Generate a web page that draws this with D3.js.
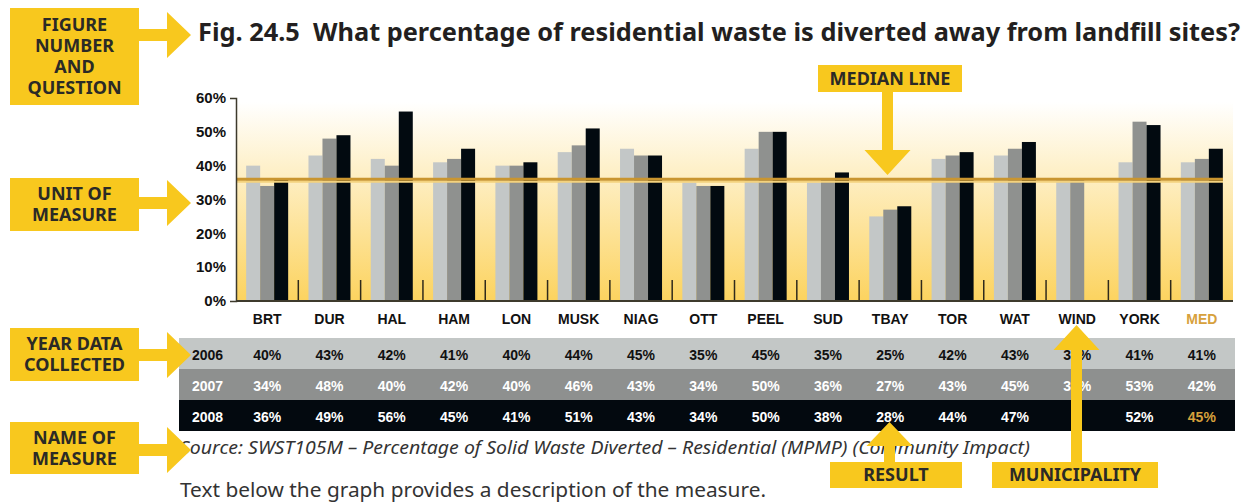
<!DOCTYPE html>
<meta charset="utf-8">
<style>
  body { margin: 0; background: #fff; }
  .cat { font: bold 14px "Liberation Sans", Arial, sans-serif; }
  .cell { font: bold 14px "Liberation Sans", Arial, sans-serif; }
  .callout { font: bold 18px "Noto Sans", sans-serif; fill: #2b2a26; }
</style>
<body>
<script src="https://d3js.org/d3.v7.min.js"></script>
<script>

// data
var municipalities = ["BRT", "DUR", "HAL", "HAM", "LON", "MUSK", "NIAG", "OTT", "PEEL", "SUD", "TBAY", "TOR", "WAT", "WIND", "YORK", "MED"];
var years = ["2006", "2007", "2008"];
var v2006 = [40, 43, 42, 41, 40, 44, 45, 35, 45, 35, 25, 42, 43, 36, 41, 41];
var v2007 = [34, 48, 40, 42, 40, 46, 43, 34, 50, 36, 27, 43, 45, 36, 53, 42];
var v2008 = [36, 49, 56, 45, 41, 51, 43, 34, 50, 38, 28, 44, 47, null, 52, 45];
var median = 36;
var yTicks = [0, 10, 20, 30, 40, 50, 60];

var series = [v2006, v2007, v2008];
var barColors = ["#c3c7c7", "#8f918f", "#020a10"];
var rowColors = ["#c3c7c6", "#8e908f", "#03090f"];
var textColors = ["#111", "#fff", "#fff"];
var gold = "#c9952f";

var W = 1252, H = 502;
var svg = d3.select("body").append("svg")
    .attr("width", W)
    .attr("height", H);

// scales
var x = d3.scaleBand().domain(municipalities).range([236, 1233]);
var x1 = d3.scaleBand().domain(years).range([0, 42]);
var y = d3.scaleLinear().domain([0, 60]).range([301, 98]);

// background gradient
var grad = svg.append("defs").append("linearGradient")
    .attr("id", "bg").attr("x1", 0).attr("y1", 0).attr("x2", 0).attr("y2", 1);
grad.append("stop").attr("offset", "0%").attr("stop-color", "#ffffff");
grad.append("stop").attr("offset", "100%").attr("stop-color", "#fcd35f");

svg.append("rect")
    .attr("x", x.range()[0])
    .attr("y", y(60) + 4)
    .attr("width", x.range()[1] - x.range()[0])
    .attr("height", y(0) - y(60) - 4)
    .attr("fill", "url(#bg)");

// bars
var off = (x.bandwidth() - 42) / 2;
series.forEach(function(vals, si) {
  svg.append("g").selectAll("rect")
    .data(municipalities.map(function(m, i) { return {m: m, v: vals[i]}; })
      .filter(function(d) { return d.v != null; }))
    .join("rect")
      .attr("x", function(d) { return x(d.m) + off + x1(years[si]); })
      .attr("y", function(d) { return y(d.v); })
      .attr("width", x1.bandwidth())
      .attr("height", function(d) { return y(0) - y(d.v); })
      .attr("fill", barColors[si]);
});

// separators between groups
svg.append("g").selectAll("line")
  .data(municipalities.slice(1))
  .join("line")
    .attr("x1", function(d) { return x(d); })
    .attr("x2", function(d) { return x(d); })
    .attr("y1", y(0) - 21)
    .attr("y2", y(0))
    .attr("stroke", "#2f2a1c")
    .attr("stroke-width", 1.5);

// median line
svg.append("line")
    .attr("x1", x.range()[0]).attr("x2", x.range()[1] - 10)
    .attr("y1", y(median) + 2.5).attr("y2", y(median) + 2.5)
    .attr("stroke", "#f3d27e").attr("stroke-width", 2);
svg.append("line")
    .attr("x1", x.range()[0]).attr("x2", x.range()[1] - 10)
    .attr("y1", y(median)).attr("y2", y(median))
    .attr("stroke", gold).attr("stroke-width", 3);

// y axis
var yAxis = svg.append("g")
    .attr("transform", "translate(236,0)")
    .call(d3.axisLeft(y).tickValues(yTicks).tickSizeInner(0).tickSizeOuter(6).tickPadding(10)
      .tickFormat(function(d) { return d + "%"; }));
yAxis.select(".domain").attr("stroke", "#3d3a2c").attr("stroke-width", 1.5);
yAxis.selectAll("text")
    .attr("fill", "#111")
    .style("font", "bold 15px 'Liberation Sans', Arial, sans-serif");

// x baseline
svg.append("line")
    .attr("x1", x.range()[0]).attr("x2", x.range()[1])
    .attr("y1", y(0)).attr("y2", y(0))
    .attr("stroke", "#3d3a2c").attr("stroke-width", 2);

// category labels
svg.append("g").selectAll("text")
  .data(municipalities)
  .join("text")
    .attr("class", "cat")
    .attr("x", function(d) { return x(d) + x.bandwidth() / 2; })
    .attr("y", 324)
    .attr("text-anchor", "middle")
    .attr("fill", function(d) { return d == "MED" ? "#d7a13c" : "#111"; })
    .text(function(d) { return d; });

// data table
var rowTop = 338, rowH = 31;
years.forEach(function(yr, si) {
  var ry = rowTop + si * rowH;
  svg.append("rect")
      .attr("x", 179).attr("y", ry)
      .attr("width", 1235 - 179).attr("height", rowH)
      .attr("fill", rowColors[si]);
  svg.append("text")
      .attr("class", "cell")
      .attr("x", 192).attr("y", ry + rowH / 2 + 6)
      .attr("fill", textColors[si])
      .text(yr);
  svg.append("g").selectAll("text")
    .data(municipalities.map(function(m, i) { return {m: m, v: series[si][i]}; })
      .filter(function(d) { return d.v != null; }))
    .join("text")
      .attr("class", "cell")
      .attr("x", function(d) { return x(d.m) + x.bandwidth() / 2; })
      .attr("y", ry + rowH / 2 + 6)
      .attr("text-anchor", "middle")
      .attr("fill", function(d) { return (d.m == "MED" && si == 2) ? "#d7a13c" : textColors[si]; })
      .text(function(d) { return d.v + "%"; });
});

// title
svg.append("text")
    .attr("x", 198).attr("y", 41)
    .attr("textLength", 1042)
    .attr("lengthAdjust", "spacingAndGlyphs")
    .style("font", "bold 25px 'Noto Sans', sans-serif")
    .style("white-space", "pre")
    .attr("fill", "#231f20")
    .text("Fig. 24.5  What percentage of residential waste is diverted away from landfill sites?");

// source and description
svg.append("text")
    .attr("x", 180).attr("y", 454)
    .attr("textLength", 850)
    .attr("lengthAdjust", "spacingAndGlyphs")
    .style("font", "italic 18.5px 'Noto Sans', sans-serif")
    .attr("fill", "#333")
    .text("Source: SWST105M \u2013 Percentage of Solid Waste Diverted \u2013 Residential (MPMP) (Community Impact)");
svg.append("text")
    .attr("x", 180).attr("y", 497)
    .attr("textLength", 586)
    .attr("lengthAdjust", "spacingAndGlyphs")
    .style("font", "20px 'Noto Sans', sans-serif")
    .attr("fill", "#333")
    .text("Text below the graph provides a description of the measure.");

// callouts
var yellow = "#f8c81e";
function calloutBox(x0, y0, w, h, lines) {
  svg.append("rect").attr("x", x0).attr("y", y0).attr("width", w).attr("height", h).attr("fill", yellow);
  var lh = 21;
  var start = y0 + h / 2 - (lines.length - 1) * lh / 2 + 6;
  lines.forEach(function(l, i) {
    svg.append("text").attr("class", "callout")
        .attr("x", x0 + w / 2).attr("y", start + i * lh)
        .attr("text-anchor", "middle").text(l);
  });
}
function arrowRight(x0, cy) {
  svg.append("path").attr("fill", yellow)
      .attr("d", "M" + x0 + "," + (cy - 6) + "H167V" + (cy - 23) + "L191," + cy + "L167," + (cy + 23) + "V" + (cy + 6) + "H" + x0 + "Z");
}
function arrowVert(cx, yBase, yBaseTri, yTip) {
  svg.append("path").attr("fill", yellow)
      .attr("d", "M" + (cx - 5.5) + "," + yBase + "V" + yBaseTri + "H" + (cx - 23) + "L" + cx + "," + yTip +
        "L" + (cx + 23) + "," + yBaseTri + "H" + (cx + 5.5) + "V" + yBase + "Z");
}

calloutBox(10, 8, 129, 97, ["FIGURE", "NUMBER", "AND", "QUESTION"]);
arrowRight(139, 35);
calloutBox(10, 178, 129, 53, ["UNIT OF", "MEASURE"]);
arrowRight(139, 203);
calloutBox(10, 328, 129, 53, ["YEAR DATA", "COLLECTED"]);
arrowRight(139, 355);
calloutBox(10, 422, 129, 52, ["NAME OF", "MEASURE"]);
arrowRight(139, 450);

arrowVert(887.5, 92, 150, 175);
calloutBox(818, 65, 144, 27, ["MEDIAN LINE"]);

arrowVert(889.5, 462, 446, 422);
calloutBox(830, 462, 132, 26, ["RESULT"]);

arrowVert(1076.5, 462, 350, 325);
calloutBox(992, 462, 166, 26, ["MUNICIPALITY"]);

</script>
</body>
